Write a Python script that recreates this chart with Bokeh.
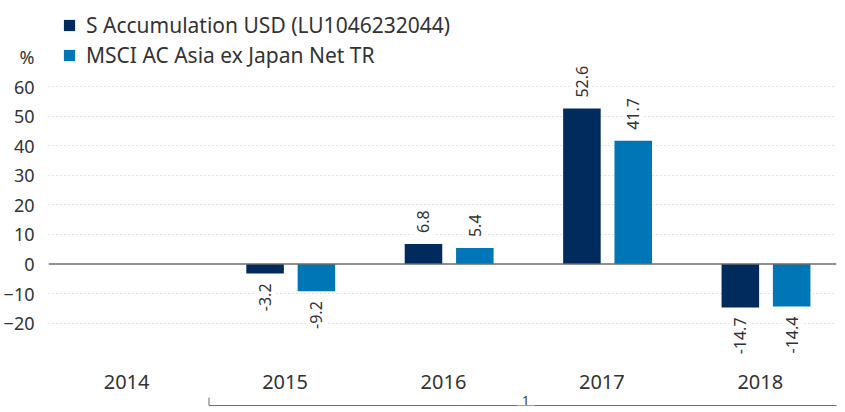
import math
from bokeh.plotting import figure
from bokeh.models import ColumnDataSource, Range1d, FixedTicker, Span, Legend, LegendItem
from bokeh.core.properties import value
from bokeh.embed import file_html
from bokeh.resources import INLINE

# ---- data ----
years = ["2014", "2015", "2016", "2017", "2018"]
fund = [float("nan"), -3.2, 6.8, 52.6, -14.7]
bench = [float("nan"), -9.2, 5.4, 41.7, -14.4]
fund_name = "S Accumulation USD (LU1046232044)"
bench_name = "MSCI AC Asia ex Japan Net TR"
y_ticks = [-20, -10, 0, 10, 20, 30, 40, 50, 60]
y_unit = "%"
footnote_label = "1"
footnote_span = ["2015", "2018"]

# ---- style ----
FONT = "Noto Sans"
DARK = "#002B5C"
LIGHT = "#0076B6"
TXT = "#333333"
BAR_W = 0.237
OFF_FUND = -0.126
OFF_BENCH = 0.198
UNIT_POS = 70  # axis position where the unit sign sits

p = figure(width=837, height=412, output_backend="svg", toolbar_location=None,
           x_range=Range1d(0.007, 4.981), y_range=Range1d(-50.25, 89.17),
           min_border_left=39, min_border_right=1, min_border_top=0, min_border_bottom=0)
p.outline_line_color = None
p.xaxis.visible = False
p.xgrid.visible = False

ya = p.yaxis[0]
ya.ticker = FixedTicker(ticks=y_ticks + [UNIT_POS])
ya.major_label_overrides = {UNIT_POS: y_unit}
ya.axis_line_color = None
ya.major_tick_line_color = None
ya.minor_tick_line_color = None
ya.major_label_standoff = 8
ya.major_label_text_font = FONT
ya.major_label_text_font_size = "18px"
ya.major_label_text_color = TXT

p.ygrid.ticker = FixedTicker(ticks=[t for t in y_ticks if t != 0])
p.ygrid.grid_line_color = "#c4c4c4"
p.ygrid.grid_line_dash = "1 3"
p.ygrid.grid_line_width = 1

p.add_layout(Span(location=0, dimension="width", line_color="#6d6d6d", line_width=1.5))

def series(vals, off):
    xs, ys = [], []
    for i, v in enumerate(vals):
        if not math.isnan(v):
            xs.append(i + 0.5 + off)
            ys.append(v)
    return xs, ys

renderers = []
for vals, off, col in [(fund, OFF_FUND, DARK), (bench, OFF_BENCH, LIGHT)]:
    xs, ys = series(vals, off)
    src = ColumnDataSource(dict(x=xs, top=ys))
    r = p.vbar(x="x", top="top", bottom=0, width=BAR_W, source=src,
               fill_color=col, line_color=None)
    renderers.append(r)
    pos = [(x, y) for x, y in zip(xs, ys) if y >= 0]
    neg = [(x, y) for x, y in zip(xs, ys) if y < 0]
    for pts, align, yoff in [(pos, "left", -7), (neg, "right", 6)]:
        s = ColumnDataSource(dict(x=[a for a, _ in pts], y=[b for _, b in pts],
                                  t=[f"{b:.1f}" for _, b in pts]))
        p.text(x="x", y="y", text="t", source=s, angle=math.pi / 2,
               text_align=align, text_baseline="middle", y_offset=yoff,
               text_font=value(FONT), text_font_size="16px", text_color=TXT,
               background_fill_color="white", padding=4)

# category labels
cat_src = ColumnDataSource(dict(x=[i + 0.5 for i in range(len(years))],
                                y=[-39.8] * len(years), t=years))
p.text(x="x", y="y", text="t", source=cat_src, text_align="center",
       text_baseline="middle", text_font=value(FONT), text_font_size="20px",
       text_color=TXT)

# footnote bracket
i0 = years.index(footnote_span[0])
i1 = years.index(footnote_span[1]) + 1
p.segment(x0=[i0 + 0.02, i0 + 0.02], y0=[-47.9, -47.9], x1=[i1 + 0.05, i0 + 0.02], y1=[-47.9, -45.2],
          line_color="#6d6d6d", line_width=1)
p.text(x=[(i0 + i1) / 2 + 0.02], y=[-46.3], text=[footnote_label], text_align="center",
       text_baseline="middle", text_font=value(FONT), text_font_size="13px",
       text_color=TXT, background_fill_color="white", padding=(5, 0))

legend = Legend(items=[LegendItem(label=fund_name, renderers=[renderers[0]]),
                       LegendItem(label=bench_name, renderers=[renderers[1]])],
                location=(14, 342), orientation="vertical")
legend.border_line_color = None
legend.background_fill_alpha = 0
legend.padding = 0
legend.margin = 0
legend.spacing = 0
legend.glyph_width = 14
legend.glyph_height = 14
legend.label_height = 30
legend.label_standoff = 10
legend.label_text_font = FONT
legend.label_text_font_size = "21px"
legend.label_text_color = TXT
p.add_layout(legend)

open("out.html", "w").write(file_html(p, INLINE))
